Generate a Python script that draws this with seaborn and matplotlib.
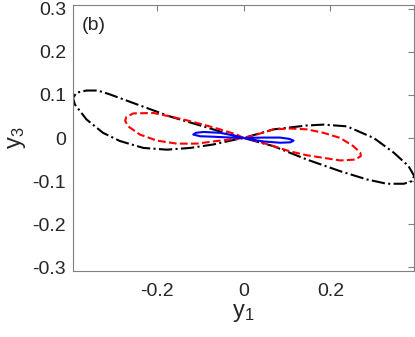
import numpy as np
import matplotlib
matplotlib.use("Agg")
import matplotlib.pyplot as plt
import seaborn as sns

# ---- data (y1 vs y3) ----
black_y1 = [0, -0.031, -0.093, -0.170, -0.246, -0.308, -0.336, -0.362, -0.385, -0.393,
            -0.389, -0.362, -0.324, -0.285, -0.231, -0.177, -0.123, -0.070, -0.016, 0,
            0.069, 0.146, 0.184, 0.238, 0.300, 0.346, 0.380, 0.393,
            0.388, 0.369, 0.330, 0.284, 0.223, 0.146, 0.069, 0]
black_y3 = [0, 0.008, 0.027, 0.050, 0.078, 0.101, 0.110, 0.110, 0.105, 0.093,
            0.078, 0.043, 0.012, -0.007, -0.023, -0.027, -0.023, -0.015, -0.003, 0,
            0.020, 0.029, 0.031, 0.027, 0.000, -0.034, -0.065, -0.088,
            -0.100, -0.106, -0.106, -0.096, -0.077, -0.050, -0.019, 0]

red_y1 = [0, -0.016, -0.054, -0.093, -0.131, -0.170, -0.208, -0.254, -0.270, -0.273,
          -0.266, -0.239, -0.200, -0.154, -0.108, -0.062, -0.016, 0,
          0.030, 0.069, 0.107, 0.146, 0.184, 0.223, 0.253, 0.269, 0.270,
          0.257, 0.223, 0.184, 0.146, 0.107, 0.069, 0.030, 0]
red_y3 = [0, 0.008, 0.020, 0.031, 0.041, 0.050, 0.058, 0.057, 0.049, 0.040,
          0.027, 0.008, -0.006, -0.013, -0.013, -0.007, -0.002, 0,
          0.008, 0.020, 0.022, 0.020, 0.012, 0.000, -0.019, -0.034, -0.042,
          -0.050, -0.052, -0.046, -0.040, -0.031, -0.019, -0.007, 0]

blue_y1 = [0, -0.024, -0.054, -0.093, -0.110, -0.116, -0.100, -0.070, -0.031, 0,
           0.046, 0.084, 0.105, 0.115, 0.108, 0.084, 0.046, 0.020, 0]
blue_y3 = [0, 0.006, 0.012, 0.014, 0.012, 0.008, 0.004, 0.003, 0.001, 0,
           0.001, 0.001, -0.002, -0.006, -0.010, -0.011, -0.008, -0.004, 0]

xticks = [-0.2, 0, 0.2]
yticks = [-0.3, -0.2, -0.1, 0, 0.1, 0.2, 0.3]

sns.set_style("white")
plt.rcParams['font.family'] = ['Liberation Sans', 'DejaVu Sans']
plt.rcParams['mathtext.default'] = 'regular'

fig = plt.figure(figsize=(4.15, 3.37), dpi=100)
ax = fig.add_axes([0.176, 0.196, 0.822, 0.789])

sns.lineplot(x=black_y1, y=black_y3, sort=False, estimator=None, color='black',
             linestyle='-.', lw=1.5, ax=ax)
sns.lineplot(x=red_y1, y=red_y3, sort=False, estimator=None, color='red',
             linestyle='--', lw=1.5, ax=ax)
sns.lineplot(x=blue_y1, y=blue_y3, sort=False, estimator=None, color='blue',
             linestyle='-', lw=1.5, ax=ax)

ax.set_xlim(-0.393, 0.393)
ax.set_ylim(-0.308, 0.308)
ax.set_xticks(xticks)
ax.set_xticklabels(['-0.2', '0', '0.2'])
ax.set_yticks(yticks)
ax.set_yticklabels(['-0.3', '-0.2', '-0.1', '0', '0.1', '0.2', '0.3'])

for s in ax.spines.values():
    s.set_visible(True)
    s.set_color('#808080')
    s.set_linewidth(0.8)
ax.tick_params(direction='in', length=4, width=0.8, color='#808080',
               top=True, right=True, labelsize=14, labelcolor='#262626')
ax.tick_params(axis='x', pad=9)
ax.tick_params(axis='y', pad=5)

ax.set_xlabel('y$_1$', fontsize=17, color='#262626', labelpad=1)
ax.set_ylabel('y$_3$', fontsize=17, color='#262626', labelpad=3)
ax.text(-0.373, 0.260, '(b)', fontsize=14, color='#262626', va='center')

fig.savefig('out.png', dpi=100)
